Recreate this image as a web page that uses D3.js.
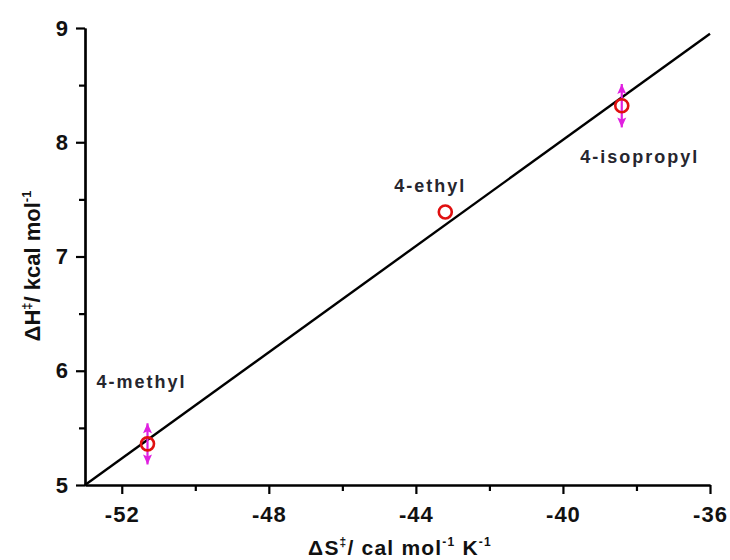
<!DOCTYPE html>
<html>
<head>
<meta charset="utf-8">
<script src="https://cdn.jsdelivr.net/npm/d3@7"></script>
<style>
  html, body { margin: 0; padding: 0; background: #fff; }
  svg { display: block; font-family: "Liberation Sans", Arial, sans-serif; }
</style>
</head>
<body>
<svg id="chart" width="730" height="560"></svg>
<script>
// Activation parameters for the substituted series
const names = ["4-methyl", "4-ethyl", "4-isopropyl"];
const dS = [-51.3, -43.2, -38.4];          // cal mol^-1 K^-1
const dH = [5.36, 7.39, 8.32];             // kcal mol^-1
const dHerr = [0.18, 0.0, 0.19];

// Linear fit endpoints
const fitS = [-53, -36];
const fitH = [5.0, 8.95];

const xTicks = [-52, -48, -44, -40, -36];
const xMinor = [-50, -46, -42, -38];
const yTicks = [5, 6, 7, 8, 9];
const yMinor = [5.5, 6.5, 7.5, 8.5];

const svg = d3.select("#chart");
const margin = { left: 85, right: 20, top: 28, bottom: 75 };
const W = 730, H = 560;

const x = d3.scaleLinear().domain([-53, -36]).range([margin.left, W - margin.right]);
const y = d3.scaleLinear().domain([5, 9]).range([H - margin.bottom, margin.top]);

// Axes
const xAxis = svg.append("g").attr("transform", `translate(0,${y(5)})`)
  .call(d3.axisBottom(x).tickValues(xTicks).tickSize(9).tickSizeOuter(0).tickPadding(12));
const xMin = svg.append("g").attr("transform", `translate(0,${y(5)})`)
  .call(d3.axisBottom(x).tickValues(xMinor).tickSize(6).tickSizeOuter(0).tickFormat(""));
const yAxis = svg.append("g").attr("transform", `translate(${x(-53)},0)`)
  .call(d3.axisLeft(y).tickValues(yTicks).tickSize(9).tickSizeOuter(0).tickPadding(8).tickFormat(d3.format("d")));
const yMin = svg.append("g").attr("transform", `translate(${x(-53)},0)`)
  .call(d3.axisLeft(y).tickValues(yMinor).tickSize(6).tickSizeOuter(0).tickFormat(""));

[xAxis, xMin, yAxis, yMin].forEach(g => {
  g.select(".domain").attr("stroke", "#000").attr("stroke-width", 2.2);
  g.selectAll(".tick line").attr("stroke", "#000").attr("stroke-width", 2.2);
  g.selectAll(".tick text").attr("fill", "#111").attr("font-size", 22).attr("font-weight", "bold")
    .attr("font-family", "'Liberation Sans', Arial, sans-serif");
});
xAxis.selectAll(".tick text").attr("letter-spacing", 1).text(d => "-" + Math.abs(d));

// Fit line
svg.append("line")
  .attr("x1", x(fitS[0])).attr("y1", y(fitH[0]))
  .attr("x2", x(fitS[1])).attr("y2", y(fitH[1]))
  .attr("stroke", "#000").attr("stroke-width", 2.4);

// Error bars with arrow-style caps
const pts = names.map((n, i) => ({ name: n, s: dS[i], h: dH[i], e: dHerr[i] }));
const eb = svg.append("g").selectAll("g").data(pts.filter(d => d.e > 0)).join("g");
eb.append("line")
  .attr("x1", d => x(d.s)).attr("x2", d => x(d.s))
  .attr("y1", d => y(d.h + d.e)).attr("y2", d => y(d.h - d.e))
  .attr("stroke", "#e020e0").attr("stroke-width", 2.2);
eb.append("path")
  .attr("d", d => {
    const cx = x(d.s), t = y(d.h + d.e), b = y(d.h - d.e);
    return `M${cx},${t} L${cx - 4.5},${t + 10} L${cx},${t + 8} L${cx + 4.5},${t + 10} Z ` +
           `M${cx},${b} L${cx - 4.5},${b - 10} L${cx},${b - 8} L${cx + 4.5},${b - 10} Z`;
  })
  .attr("fill", "#e020e0");

// Data points
svg.append("g").selectAll("circle").data(pts).join("circle")
  .attr("cx", d => x(d.s)).attr("cy", d => y(d.h)).attr("r", 6.5)
  .attr("fill", "none").attr("stroke", "#e01010").attr("stroke-width", 2.6);

// Point labels
const labelPos = [
  { dx: -6, dy: -56 },
  { dx: -15, dy: -20 },
  { dx: 18, dy: 57 }
];
svg.append("g").selectAll("text").data(pts).join("text")
  .attr("x", (d, i) => x(d.s) + labelPos[i].dx)
  .attr("y", (d, i) => y(d.h) + labelPos[i].dy)
  .attr("text-anchor", "middle")
  .attr("font-size", 18).attr("font-weight", "bold").attr("fill", "#26262e")
  .attr("letter-spacing", 2)
  .text(d => d.name);

// Axis titles
const xt = svg.append("text")
  .attr("x", 400).attr("y", 555)
  .attr("text-anchor", "middle").attr("font-size", 21).attr("font-weight", "bold").attr("fill", "#111")
  .attr("letter-spacing", 1.2);
xt.append("tspan").text("ΔS");
xt.append("tspan").attr("dy", -9).attr("font-size", 12).text("‡");
xt.append("tspan").attr("dy", 9).text("/ cal mol");
xt.append("tspan").attr("dy", -9).attr("font-size", 12).text("-1");
xt.append("tspan").attr("dy", 9).text(" K");
xt.append("tspan").attr("dy", -9).attr("font-size", 12).text("-1");

const yt = svg.append("text")
  .attr("transform", `translate(40,266) rotate(-90)`)
  .attr("text-anchor", "middle").attr("font-size", 22).attr("font-weight", "bold").attr("fill", "#111");
yt.append("tspan").text("ΔH");
yt.append("tspan").attr("dy", -9).attr("font-size", 13).text("‡");
yt.append("tspan").attr("dy", 9).text("/ kcal mol");
yt.append("tspan").attr("dy", -9).attr("font-size", 13).text("-1");
</script>
</body>
</html>
